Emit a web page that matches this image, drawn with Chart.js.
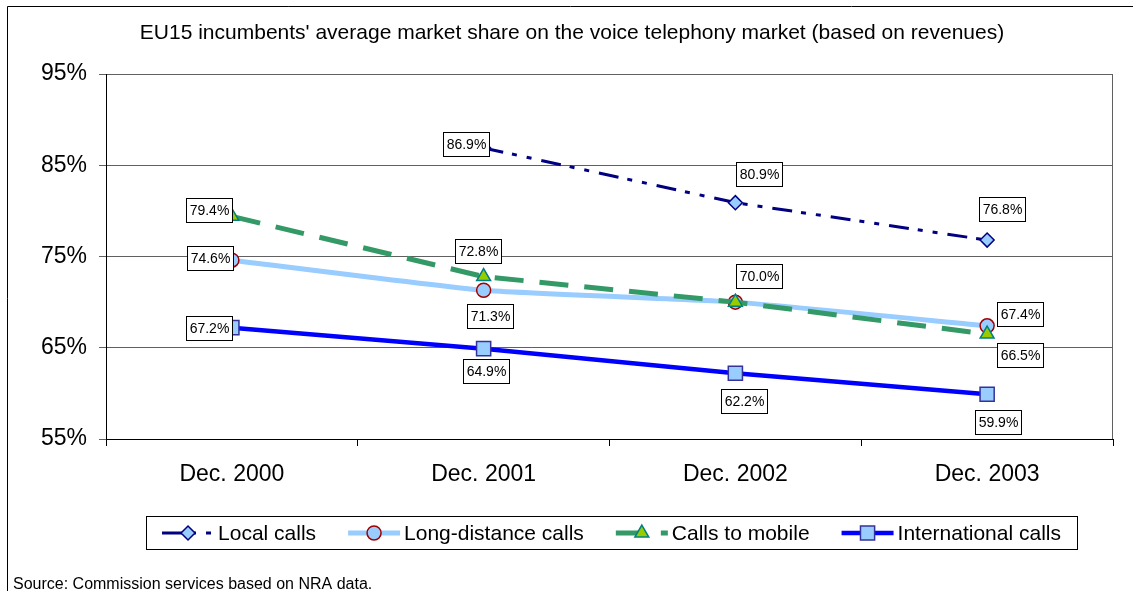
<!DOCTYPE html>
<html>
<head>
<meta charset="utf-8">
<script src="https://cdn.jsdelivr.net/npm/chart.js@4.4.0/dist/chart.umd.min.js"></script>
<style>
  html, body { margin: 0; padding: 0; background: #fff; }
  canvas { display: block; }
</style>
</head>
<body>
<canvas id="chart" width="1133" height="591"></canvas>
<script>
const categories = ['Dec. 2000', 'Dec. 2001', 'Dec. 2002', 'Dec. 2003'];
const localCalls = [null, 86.9, 80.9, 76.8];
const longDistanceCalls = [74.6, 71.3, 70.0, 67.4];
const callsToMobile = [79.4, 72.8, 70.0, 66.5];
const internationalCalls = [67.2, 64.9, 62.2, 59.9];
const yMin = 55, yMax = 95, yStep = 10;

const titleText = "EU15 incumbents' average market share on the voice telephony market (based on revenues)";
const sourceText = 'Source: Commission services based on NRA data.';

// where each value label box sits relative to its point [dx, dy]; null = no label
const labelOffsets = [
  [null, [-18, -4], [24, -29], [15, -31]],
  [[-22, -2], [6, 26], [24, -26], [33, -12]],
  [[-23, -6], [-6, -26], null, [33, 21]],
  [[-23, 0], [2, 22], [9, 28], [11, 28]]
];

const FONT = "'Liberation Sans', Arial, sans-serif";

const decor = {
  id: 'decor',
  afterDatasetsDraw(chart) {
    const ctx = chart.ctx;
    const area = chart.chartArea;
    ctx.save();

    // right edge of plot area
    ctx.strokeStyle = '#606060';
    ctx.lineWidth = 1;
    ctx.beginPath();
    ctx.moveTo(Math.round(area.right) - 0.5, area.top);
    ctx.lineTo(Math.round(area.right) - 0.5, area.bottom);
    ctx.stroke();

    // value labels in boxes
    ctx.font = '14px ' + FONT;
    ctx.textAlign = 'center';
    ctx.textBaseline = 'middle';
    chart.data.datasets.forEach((ds, i) => {
      const meta = chart.getDatasetMeta(i);
      meta.data.forEach((pt, j) => {
        const off = labelOffsets[i][j];
        if (!off || ds.data[j] == null) return;
        const txt = ds.data[j].toFixed(1) + '%';
        const w = Math.round(ctx.measureText(txt).width) + 6;
        const h = 24;
        const cx = Math.round(pt.x + off[0]);
        const cy = Math.round(pt.y + off[1]);
        const x0 = cx - Math.round(w / 2), y0 = cy - h / 2;
        ctx.fillStyle = '#fff';
        ctx.fillRect(x0, y0, w, h);
        ctx.strokeStyle = '#000';
        ctx.strokeRect(x0 + 0.5, y0 + 0.5, w, h);
        ctx.fillStyle = '#000';
        ctx.fillText(txt, cx + 0.5, cy + 1);
      });
    });
    ctx.restore();
  },
  afterDraw(chart) {
    const ctx = chart.ctx;
    ctx.save();

    // outer frame (cut off at right and bottom)
    ctx.strokeStyle = '#000';
    ctx.lineWidth = 1;
    ctx.beginPath();
    ctx.moveTo(7.5, 591);
    ctx.lineTo(7.5, 6.5);
    ctx.lineTo(1133, 6.5);
    ctx.stroke();

    // title
    ctx.fillStyle = '#000';
    ctx.font = '21px ' + FONT;
    ctx.textAlign = 'center';
    ctx.textBaseline = 'middle';
    ctx.fillText(titleText, 572, 33);

    // legend
    const box = { x: 146, y: 516, w: 931, h: 33 };
    ctx.strokeStyle = '#000';
    ctx.strokeRect(box.x + 0.5, box.y + 0.5, box.w, box.h);
    ctx.font = '21px ' + FONT;
    const sampleW = 52, textGap = 4, itemGap = 32;
    const items = chart.data.datasets.map(ds => ({ ds, tw: ctx.measureText(ds.label).width }));
    const total = items.reduce((s, it) => s + sampleW + textGap + it.tw, 0) + itemGap * (items.length - 1);
    let x = box.x + (box.w - total) / 2;
    const ly = box.y + box.h / 2 + 0.5;
    items.forEach(({ ds, tw }) => {
      ctx.save();
      ctx.strokeStyle = ds.borderColor;
      ctx.lineWidth = ds.borderWidth;
      ctx.setLineDash(ds.borderDash || []);
      ctx.beginPath();
      ctx.moveTo(x, ly);
      ctx.lineTo(x + sampleW, ly);
      ctx.stroke();
      ctx.setLineDash([]);
      ctx.fillStyle = ds.pointBackgroundColor;
      ctx.strokeStyle = ds.pointBorderColor;
      ctx.lineWidth = ds.pointBorderWidth;
      Chart.helpers.drawPoint(ctx, {
        pointStyle: ds.pointStyle, radius: ds.pointRadius, rotation: 0, borderWidth: ds.pointBorderWidth
      }, x + sampleW / 2, ly);
      ctx.restore();
      ctx.fillStyle = '#000';
      ctx.textAlign = 'left';
      ctx.textBaseline = 'middle';
      ctx.fillText(ds.label, x + sampleW + textGap, ly + 1);
      x += sampleW + textGap + tw + itemGap;
    });

    // source note
    ctx.font = '16px ' + FONT;
    ctx.textAlign = 'left';
    ctx.textBaseline = 'alphabetic';
    ctx.fillText(sourceText, 13, 589);
    ctx.restore();
  }
};

new Chart(document.getElementById('chart'), {
  type: 'line',
  data: {
    labels: categories,
    datasets: [
      {
        label: 'Local calls',
        data: localCalls,
        borderColor: '#000080',
        borderWidth: 3,
        borderDash: [20, 9, 5, 10, 5, 10],
        pointStyle: 'rectRot',
        pointRadius: 7,
        pointBackgroundColor: '#99CCFF',
        pointBorderColor: '#000080',
        pointBorderWidth: 1.5,
        tension: 0,
        order: 0
      },
      {
        label: 'Long-distance calls',
        data: longDistanceCalls,
        borderColor: '#99CCFF',
        borderWidth: 5,
        pointStyle: 'circle',
        pointRadius: 7,
        pointBackgroundColor: '#99CCFF',
        pointBorderColor: '#A00000',
        pointBorderWidth: 1.5,
        tension: 0.15,
        order: 2
      },
      {
        label: 'Calls to mobile',
        data: callsToMobile,
        borderColor: '#339966',
        borderWidth: 5,
        borderDash: [29, 16],
        pointStyle: 'triangle',
        pointRadius: 8,
        pointBackgroundColor: '#99CC00',
        pointBorderColor: '#008080',
        pointBorderWidth: 1.5,
        tension: 0,
        order: 1
      },
      {
        label: 'International calls',
        data: internationalCalls,
        borderColor: '#0000FF',
        borderWidth: 4.5,
        pointStyle: 'rect',
        pointRadius: 10,
        pointBackgroundColor: '#99CCFF',
        pointBorderColor: '#333399',
        pointBorderWidth: 1.5,
        tension: 0,
        order: 3
      }
    ]
  },
  options: {
    responsive: false,
    animation: false,
    devicePixelRatio: 1,
    layout: { padding: { top: 74, right: 20, left: 0, bottom: 0 } },
    plugins: {
      legend: { display: false },
      tooltip: { enabled: false },
      title: { display: false }
    },
    scales: {
      x: {
        offset: true,
        afterFit: s => { s.height = 152; },
        grid: { drawOnChartArea: false, drawTicks: true, tickLength: 7, color: '#000', offset: true },
        border: { color: '#000', width: 1 },
        ticks: { color: '#000', font: { family: FONT, size: 23 }, padding: 15, maxRotation: 0 }
      },
      y: {
        min: yMin,
        max: yMax,
        afterFit: s => { s.width = 106; },
        grid: { color: '#606060', tickLength: 7 },
        border: { color: '#000', width: 1 },
        ticks: {
          stepSize: yStep,
          color: '#000',
          padding: 12,
          font: { family: FONT, size: 23 },
          callback: v => v + '%'
        }
      }
    }
  },
  plugins: [decor]
});
</script>
</body>
</html>
